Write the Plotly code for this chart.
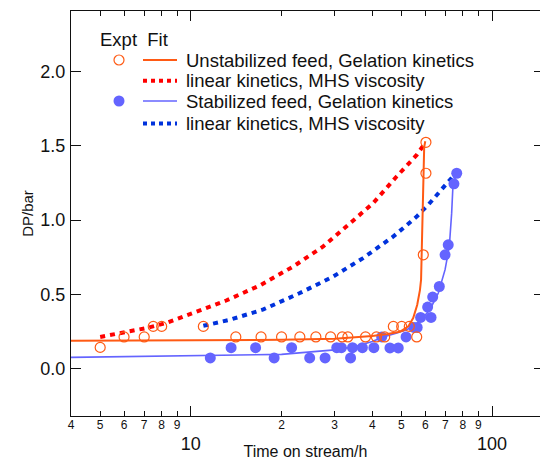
import plotly.graph_objects as go
import math

# ---------------- data ----------------
# Unstabilized feed, experimental
unstab_t = [5, 6, 7, 7.5, 8, 11, 14.1, 17.1, 20.0, 23.0, 26.0, 29.1, 31.8, 33.2, 38.0, 41.3, 44.0,
            47.0, 50.1, 53.1, 56.2, 59.1, 60.3, 60.3]
unstab_dp = [0.145, 0.215, 0.215, 0.286, 0.286, 0.286, 0.215, 0.215, 0.215, 0.215, 0.215, 0.215, 0.215,
             0.215, 0.215, 0.215, 0.215, 0.286, 0.286, 0.286, 0.215, 0.767, 1.315, 1.523]
# Stabilized feed, experimental
stab_t = [11.6, 13.6, 16.4, 18.9, 21.6, 24.8, 27.9, 30.5, 31.6, 33.9, 34.4, 37.1, 40.5, 43.0, 45.8, 48.8,
          51.8, 55.0, 56.4, 57.9, 62.7, 61.1, 63.5, 66.8, 69.8, 71.5, 74.7, 76.3]
stab_dp = [0.074, 0.143, 0.143, 0.074, 0.143, 0.074, 0.074, 0.143, 0.143, 0.074, 0.143, 0.143, 0.143, 0.215,
           0.141, 0.141, 0.215, 0.279, 0.279, 0.346, 0.346, 0.416, 0.483, 0.554, 0.767, 0.834, 1.244, 1.315]
# Fits
fit_unstab_gel_t = [4, 10, 20, 30, 40, 45, 49.4, 52.7, 54.7, 56.4, 57.6, 58.1, 58.8, 59.5, 60.0]
fit_unstab_gel_dp = [0.190, 0.192, 0.196, 0.203, 0.222, 0.235, 0.25, 0.286, 0.342, 0.43, 0.53, 0.60, 1.00, 1.49, 1.53]
fit_unstab_lin_t = [5, 5.95, 7.12, 8.3, 10, 11.6, 13.1, 16.9, 21.9, 27.5, 33.7, 40.3, 48.2, 56.2, 60]
fit_unstab_lin_dp = [0.215, 0.242, 0.275, 0.309, 0.37, 0.42, 0.46, 0.56, 0.689, 0.823, 0.98, 1.114, 1.293, 1.438, 1.52]
fit_stab_gel_t = [4, 10, 20, 30, 35, 40, 43.5, 48, 52, 55, 57.6, 62.2, 66.3, 69.8, 72.1, 73.4, 74.2, 76]
fit_stab_gel_dp = [0.078, 0.087, 0.098, 0.128, 0.15, 0.185, 0.215, 0.24, 0.264, 0.29, 0.32, 0.40, 0.51, 0.667,
                   0.823, 1.047, 1.248, 1.30]
fit_stab_lin_t = [11, 13.5, 17.4, 23.0, 29.7, 37.3, 47, 56.2, 61.4, 73.5]
fit_stab_lin_dp = [0.29, 0.331, 0.40, 0.51, 0.621, 0.745, 0.89, 1.024, 1.103, 1.285]

major_ticks = [10, 100]
major_labels = ["10", "100"]
minor_ticks = [4, 5, 6, 7, 8, 9, 20, 30, 40, 50, 60, 70, 80, 90]
minor_labels = ["4", "5", "6", "7", "8", "9", "2", "3", "4", "5", "6", "7", "8", "9"]
y_ticks = [0.0, 0.5, 1.0, 1.5, 2.0]
y_labels = ["0.0", "0.5", "1.0", "1.5", "2.0"]

legend_rows = ["Unstabilized feed, Gelation kinetics", "linear kinetics, MHS viscosity",
               "Stabilized feed, Gelation kinetics", "linear kinetics, MHS viscosity"]

# ---------------- style ----------------
ORANGE = "rgb(255,90,20)"
RED = "rgb(255,0,0)"
BLUE_L = "rgb(100,100,255)"
BLUE_D = "rgb(0,50,220)"
FONT = "Liberation Sans, Arial, Helvetica, sans-serif"
INK = "#111"
CLEAR = "rgba(0,0,0,0)"

xr = [math.log10(4), 2.159]
yr = [-0.316, 2.405]

fig = go.Figure()
# helper empty traces so the overlay axes get drawn
fig.add_trace(go.Scatter(x=[None], y=[None], xaxis="x2", yaxis="y", hoverinfo="skip"))
fig.add_trace(go.Scatter(x=[None], y=[None], xaxis="x3", yaxis="y", hoverinfo="skip"))
fig.add_trace(go.Scatter(x=[None], y=[None], xaxis="x", yaxis="y2", hoverinfo="skip"))

fig.add_trace(go.Scatter(x=fit_unstab_lin_t, y=fit_unstab_lin_dp, mode="lines",
                         line=dict(color=RED, width=4, dash="5px,5px")))
fig.add_trace(go.Scatter(x=fit_stab_lin_t, y=fit_stab_lin_dp, mode="lines",
                         line=dict(color=BLUE_D, width=4, dash="5px,5px")))
fig.add_trace(go.Scatter(x=fit_stab_gel_t, y=fit_stab_gel_dp, mode="lines",
                         line=dict(color=BLUE_L, width=1.6)))
fig.add_trace(go.Scatter(x=stab_t, y=stab_dp, mode="markers",
                         marker=dict(color=BLUE_L, size=11, line=dict(width=0))))
fig.add_trace(go.Scatter(x=fit_unstab_gel_t, y=fit_unstab_gel_dp, mode="lines",
                         line=dict(color=ORANGE, width=2)))
fig.add_trace(go.Scatter(x=unstab_t, y=unstab_dp, mode="markers",
                         marker=dict(symbol="circle-open", color=ORANGE, size=10, line=dict(width=1.2))))

# legend drawn in a pixel-like helper axis covering the plot area
leg_y = [60, 80.7, 101, 123.5]
fig.add_trace(go.Scatter(x=[119], y=[leg_y[0]], mode="markers", xaxis="x4", yaxis="y4",
                         marker=dict(symbol="circle-open", color=ORANGE, size=10, line=dict(width=1.2))))
fig.add_trace(go.Scatter(x=[119], y=[leg_y[2]], mode="markers", xaxis="x4", yaxis="y4",
                         marker=dict(symbol="circle", color=BLUE_L, size=11, line=dict(width=0))))
leg_styles = [(ORANGE, 2, "solid"), (RED, 4, "dot"), (BLUE_L, 1.6, "solid"), (BLUE_D, 4, "dot")]
for yy, (c, w, d), txt in zip(leg_y, leg_styles, legend_rows):
    fig.add_shape(type="line", xref="x4", yref="y4", x0=143, x1=177, y0=yy, y1=yy,
                  line=dict(color=c, width=w, dash=d))
    fig.add_annotation(xref="x4", yref="y4", x=184, y=yy, text=txt, showarrow=False,
                       xanchor="left", yanchor="middle", font=dict(size=18.5, color=INK, family=FONT))
fig.add_annotation(xref="x4", yref="y4", x=98, y=39, text="Expt  Fit", showarrow=False,
                   xanchor="left", yanchor="middle", font=dict(size=18.5, color=INK, family=FONT))

fig.update_traces(showlegend=False)

fig.update_layout(
    width=540, height=465,
    margin=dict(l=71, r=0, t=11, b=49),
    paper_bgcolor="white", plot_bgcolor=CLEAR,
    font=dict(family=FONT, color=INK),
    xaxis=dict(type="log", range=xr, tickmode="array", tickvals=major_ticks, ticktext=major_labels,
               ticks="inside", ticklen=10, tickcolor=INK, tickwidth=1, showline=True, linecolor=INK,
               linewidth=1, showgrid=False, zeroline=False, tickfont=dict(size=18),
               ticklabelstandoff=11,
               minor=dict(tickmode="array", tickvals=minor_ticks, ticks="inside", ticklen=5,
                          tickcolor=INK, tickwidth=1, showgrid=False),
               automargin=False),
    xaxis2=dict(type="log", range=xr, overlaying="x", anchor="y", side="bottom", tickmode="array",
                tickvals=minor_ticks, ticktext=minor_labels, ticks="", showline=False, showgrid=False,
                zeroline=False, tickfont=dict(size=12), automargin=False,
                title=dict(text="Time on stream/h", font=dict(size=16), standoff=14)),
    xaxis3=dict(type="log", range=xr, overlaying="x", anchor="y", side="top", tickmode="array",
                tickvals=major_ticks, ticks="inside", ticklen=10, tickcolor=INK, showticklabels=False,
                showline=True, linecolor=INK, linewidth=1, showgrid=False, zeroline=False,
                minor=dict(tickmode="array", tickvals=minor_ticks, ticks="inside", ticklen=5,
                           tickcolor=INK, tickwidth=1, showgrid=False),
                automargin=False),
    yaxis=dict(range=yr, tickmode="array", tickvals=y_ticks, ticktext=y_labels, ticks="inside",
               ticklen=10, tickcolor=INK, showline=True, linecolor=INK, linewidth=1, showgrid=False,
               zeroline=False, tickfont=dict(size=18), ticklabelstandoff=1,
               title=dict(text="DP/bar", font=dict(size=15), standoff=3), automargin=False),
    yaxis2=dict(range=yr, overlaying="y", side="right", anchor="x", tickmode="array", tickvals=y_ticks,
                ticks="inside", ticklen=6, tickcolor=INK, showticklabels=False, showline=False,
                showgrid=False, zeroline=False, automargin=False),
    xaxis4=dict(domain=[0, 1], range=[71, 540], anchor="y4", visible=False, fixedrange=True),
    yaxis4=dict(domain=[0, 1], range=[416, 11], anchor="x4", visible=False, fixedrange=True),
)

fig.write_html("out.html", config={"displayModeBar": False},
               post_script="document.body.style.margin='0';")
